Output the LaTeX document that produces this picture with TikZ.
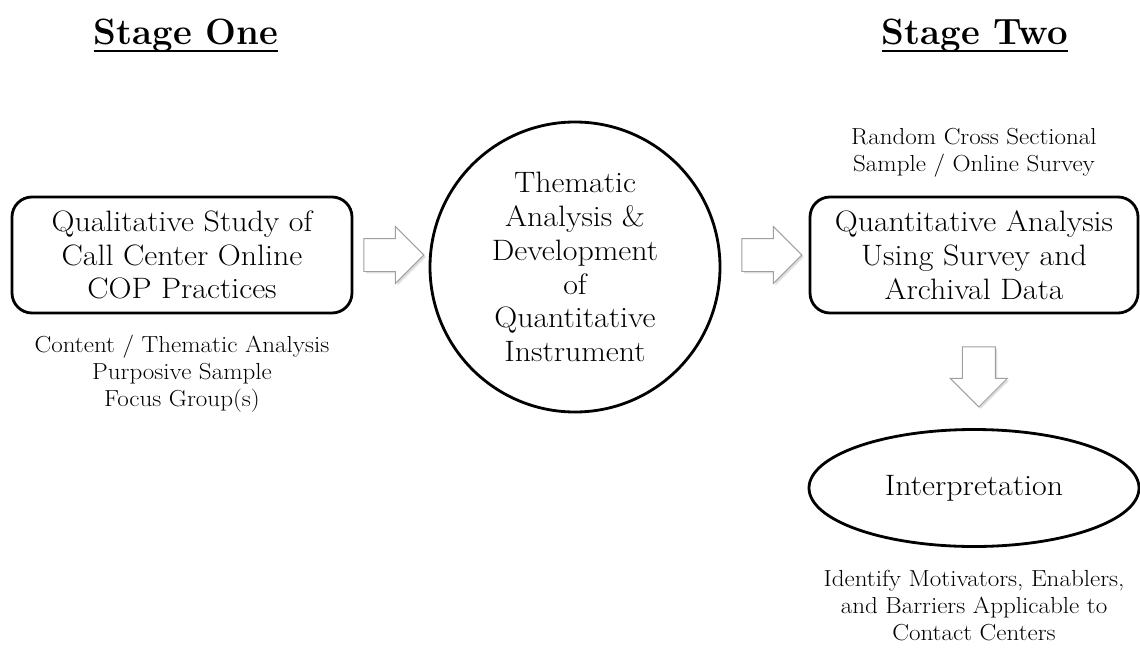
\documentclass[tikz,border=0pt]{standalone}
\usepackage{fontspec}
\setmainfont{Latin Modern Roman}[FakeStretch=1.08]
\newfontfamily\titlefont{Latin Modern Roman}
\usepackage{tikz}
\usetikzlibrary{positioning,calc,shapes.geometric,shapes.arrows,shadows}
\newcommand{\bigtext}{\fontsize{21}{24}\selectfont}
\newcommand{\smalltext}{\fontsize{16.5}{19.2}\selectfont}
\newcommand{\titletext}{\titlefont\fontsize{26}{30}\selectfont\bfseries}

\tikzset{
  stagetitle/.style={anchor=base, inner sep=0pt, font=\titletext},
  box/.style={draw, rounded corners=0.5cm, line width=2pt, minimum width=8.5cm,
    minimum height=2.9cm, align=center, inner sep=0pt, font=\bigtext},
  bubble/.style={circle, draw, line width=2pt, minimum size=7.25cm, align=center,
    inner sep=0pt, font=\bigtext},
  oval/.style={ellipse, draw, line width=2pt, minimum width=8.25cm,
    minimum height=2.925cm, inner sep=0pt, font=\bigtext},
  note/.style={align=center, inner sep=0pt, font=\smalltext},
  blockarr/.style={single arrow, draw=gray!75, line width=0.7pt, fill=white, anchor=tail,
    minimum height=1.5cm, inner xsep=0pt, inner ysep=0.4cm, single arrow head extend=0.3cm,
    drop shadow={opacity=0.25, shadow xshift=0.05cm, shadow yshift=-0.05cm}}
}

\begin{document}
\begin{tikzpicture}
\useasboundingbox (0,0) rectangle (28.5,-16.225);

\node[stagetitle] (one) at (4.65,-1.125) {Stage One};
\node[stagetitle] (two) at (24.375,-1.125) {Stage Two};
\foreach \t in {one,two}
  \draw[line width=1.3pt] ([yshift=-0.14cm]\t.base west) -- ([yshift=-0.14cm]\t.base east);

% stage one
\node[box] (qual) at (4.55,-6.375) {Qualitative Study of\\Call Center Online\\COP Practices};
\node[note, below=0.5cm of qual] (qualnote) {Content / Thematic Analysis\\Purposive Sample\\Focus Group(s)};
\node[bubble] (them) at (14.375,-6.675) {Thematic\\Analysis \&\\Development\\of\\Quantitative\\Instrument};

% stage two
\node[box, minimum width=8.2cm] (quant) at (24.35,-6.375) {Quantitative Analysis\\Using Survey and\\Archival Data};
\node[note, above=0.45cm of quant] (quantnote) {Random Cross Sectional\\Sample / Online Survey};
\node[oval] (interp) at (24.35,-12.2) {Interpretation};
\node[note, below=0.55cm of interp] (interpnote) {Identify Motivators, Enablers,\\and Barriers Applicable to\\Contact Centers};

\node[blockarr] (arr1) at ([xshift=0.25cm]qual.east) {};
\node[blockarr] (arr2) at ([xshift=0.5cm, yshift=0.3cm]them.east) {};
\node[blockarr, shape border rotate=270, inner xsep=0.4cm, inner ysep=0pt] (arr3)
  at ([xshift=0.12cm, yshift=-0.8cm]quant.south) {};
\end{tikzpicture}
\end{document}
